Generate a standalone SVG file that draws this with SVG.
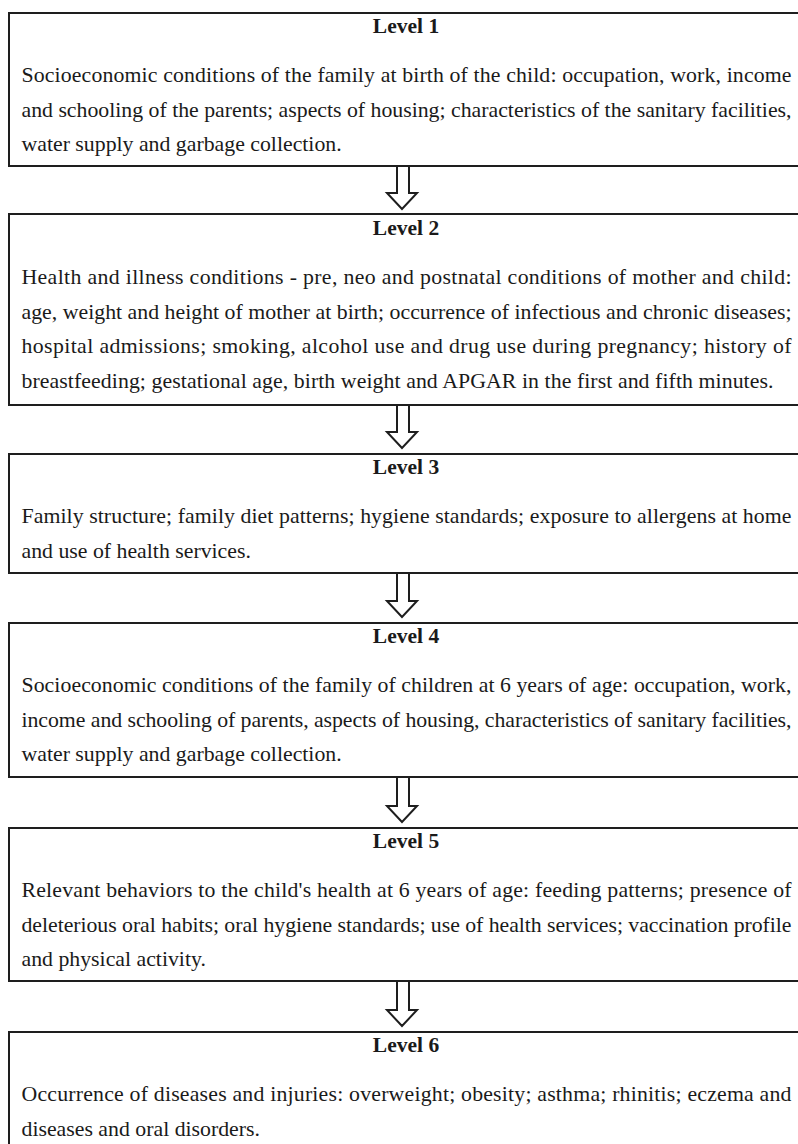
<svg xmlns="http://www.w3.org/2000/svg" width="798" height="1144" viewBox="0 0 798 1144">
<style>
.box{fill:#fff;stroke:#1e1e1e;stroke-width:2}
.arr{fill:#fff;stroke:#1e1e1e;stroke-width:2;stroke-linejoin:miter}
.lvl{font-family:"Liberation Serif","Times New Roman",serif;font-size:21.5px;font-weight:bold;fill:#1a1a1a;text-anchor:middle}
.txt{font-family:"Liberation Serif","Times New Roman",serif;font-size:21.8px;fill:#1a1a1a}
</style>
<rect width="798" height="1144" fill="#fff"/>
<g id="connectors">
<polygon class="arr" points="397,166 397,193 387,193 402,209 417,193 409,193 409,166"/>
<polygon class="arr" points="397,405 397,432 387,432 402,448 417,432 409,432 409,405"/>
<polygon class="arr" points="397,573 397,601 387,601 402,617 417,601 409,601 409,573"/>
<polygon class="arr" points="397,777 397,806 387,806 402,822 417,806 409,806 409,777"/>
<polygon class="arr" points="397,981 397,1010 387,1010 402,1026 417,1010 409,1010 409,981"/>
</g>
<g id="level1">
<rect class="box" x="9" y="13" width="800" height="153"/>
<text class="lvl" x="406" y="33">Level 1</text>
<text class="txt" x="21.5" y="82" textLength="770" lengthAdjust="spacing">Socioeconomic conditions of the family at birth of the child: occupation, work, income</text>
<text class="txt" x="21.5" y="116.5" textLength="770" lengthAdjust="spacing">and schooling of the parents; aspects of housing; characteristics of the sanitary facilities,</text>
<text class="txt" x="21.5" y="151">water supply and garbage collection.</text>
</g>
<g id="level2">
<rect class="box" x="9" y="214" width="800" height="191"/>
<text class="lvl" x="406" y="235">Level 2</text>
<text class="txt" x="21.5" y="284" textLength="770" lengthAdjust="spacing">Health and illness conditions - pre, neo and postnatal conditions of mother and child:</text>
<text class="txt" x="21.5" y="318.5" textLength="770" lengthAdjust="spacing">age, weight and height of mother at birth; occurrence of infectious and chronic diseases;</text>
<text class="txt" x="21.5" y="353" textLength="770" lengthAdjust="spacing">hospital admissions; smoking, alcohol use and drug use during pregnancy; history of</text>
<text class="txt" x="21.5" y="388" textLength="752" lengthAdjust="spacing">breastfeeding; gestational age, birth weight and APGAR in the first and fifth minutes.</text>
</g>
<g id="level3">
<rect class="box" x="9" y="454" width="800" height="119"/>
<text class="lvl" x="406" y="474">Level 3</text>
<text class="txt" x="21.5" y="523" textLength="770" lengthAdjust="spacing">Family structure; family diet patterns; hygiene standards; exposure to allergens at home</text>
<text class="txt" x="21.5" y="557.5">and use of health services.</text>
</g>
<g id="level4">
<rect class="box" x="9" y="623" width="800" height="154"/>
<text class="lvl" x="406" y="643">Level 4</text>
<text class="txt" x="21.5" y="692" textLength="770" lengthAdjust="spacing">Socioeconomic conditions of the family of children at 6 years of age: occupation, work,</text>
<text class="txt" x="21.5" y="726.5" textLength="770" lengthAdjust="spacing">income and schooling of parents, aspects of housing, characteristics of sanitary facilities,</text>
<text class="txt" x="21.5" y="761">water supply and garbage collection.</text>
</g>
<g id="level5">
<rect class="box" x="9" y="828" width="800" height="153"/>
<text class="lvl" x="406" y="848">Level 5</text>
<text class="txt" x="21.5" y="897" textLength="770" lengthAdjust="spacing">Relevant behaviors to the child's health at 6 years of age: feeding patterns; presence of</text>
<text class="txt" x="21.5" y="931.5" textLength="770" lengthAdjust="spacing">deleterious oral habits; oral hygiene standards; use of health services; vaccination profile</text>
<text class="txt" x="21.5" y="966">and physical activity.</text>
</g>
<g id="level6">
<rect class="box" x="9" y="1032" width="800" height="130"/>
<text class="lvl" x="406" y="1052">Level 6</text>
<text class="txt" x="21.5" y="1101" textLength="770" lengthAdjust="spacing">Occurrence of diseases and injuries: overweight; obesity; asthma; rhinitis; eczema and</text>
<text class="txt" x="21.5" y="1135.5">diseases and oral disorders.</text>
</g>
</svg>
